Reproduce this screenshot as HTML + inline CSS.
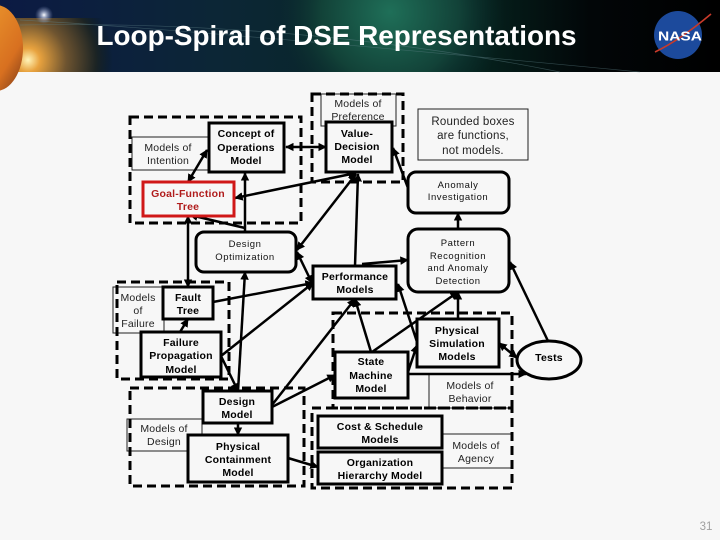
<!DOCTYPE html>
<html><head><meta charset="utf-8"><style>
html,body{margin:0;padding:0;background:#f7f7f7}
svg{display:block}
text{font-family:"Liberation Sans",sans-serif;text-anchor:middle}
.b text{font-weight:bold;font-size:10.5px;fill:#000;letter-spacing:.2px}
.r text{font-size:9.5px;fill:#111;letter-spacing:.55px}
.t text{font-size:10.5px;fill:#222;letter-spacing:.2px}
</style></head><body>
<svg width="720" height="540" viewBox="0 0 720 540" xmlns="http://www.w3.org/2000/svg">
<defs>
<radialGradient id="sun" cx="28" cy="60" r="85" gradientUnits="userSpaceOnUse"><stop offset="0" stop-color="#fff4b8"/><stop offset=".14" stop-color="#e8a23e"/><stop offset=".45" stop-color="#6e5430"/><stop offset=".8" stop-color="#1c2424"/><stop offset="1" stop-color="#0a1a1c" stop-opacity="0"/></radialGradient>
<radialGradient id="gr" cx="390" cy="12" r="115" gradientUnits="userSpaceOnUse"><stop offset="0" stop-color="#1f6f58"/><stop offset=".6" stop-color="#124238"/><stop offset="1" stop-color="#0a2a2c" stop-opacity="0"/></radialGradient>
<linearGradient id="hd" x1="0" x2="1" y1="0" y2="0"><stop offset="0" stop-color="#0c1a44"/><stop offset=".3" stop-color="#0c2636"/><stop offset=".65" stop-color="#06241f"/><stop offset=".82" stop-color="#020608"/><stop offset="1" stop-color="#000"/></linearGradient>
<linearGradient id="pl" x1="0" x2="1" y1="0" y2="1"><stop offset="0" stop-color="#f0a030"/><stop offset=".7" stop-color="#d87020"/><stop offset="1" stop-color="#7a3818"/></linearGradient>
<radialGradient id="st"><stop offset="0" stop-color="#fff"/><stop offset=".3" stop-color="#cfd8f0" stop-opacity=".7"/><stop offset="1" stop-color="#8090c0" stop-opacity="0"/></radialGradient>
<marker id="a" viewBox="0 0 10 10" refX="9" refY="5" markerWidth="3.400" markerHeight="3.400" orient="auto-start-reverse"><path d="M0 0L10 5L0 10Z" fill="#000"/></marker>
</defs>
<rect width="720" height="540" fill="#f7f7f7"/>
<!-- header -->
<rect width="720" height="72" fill="url(#hd)"/>
<rect width="720" height="72" fill="url(#gr)"/>
<rect x="0" y="18" width="125" height="54" fill="url(#sun)"/>
<path d="M20 20Q200 30 640 72M20 25Q300 20 560 72" stroke="#5d7f86" stroke-width=".7" fill="none" opacity=".5"/>
<ellipse cx="-4" cy="48" rx="27" ry="43" fill="url(#pl)"/>
<circle cx="44" cy="15" r="9" fill="url(#st)"/>
<text x="336.500" y="45" font-size="27.500" fill="#fff" textLength="480" lengthAdjust="spacingAndGlyphs" style="font-weight:bold">Loop-Spiral of DSE Representations</text>
<circle cx="678" cy="35" r="24" fill="#1c4a9c"/>
<path d="M655 52Q680 40 711 14" stroke="#c83a2a" stroke-width="1.600" fill="none"/>
<text x="680" y="40.500" font-size="13" fill="#fff" textLength="44" lengthAdjust="spacingAndGlyphs" style="font-weight:bold">NASA</text>

<!-- thin boxes -->
<g fill="#f7f7f7" stroke="#222" stroke-width="1">
<rect x="132" y="137" width="76" height="33"/>
<rect x="321" y="94" width="75" height="32"/>
<rect x="418" y="109" width="110" height="51"/>
<rect x="113" y="287" width="51" height="46"/>
<rect x="127" y="419" width="75" height="32"/>
<path d="M429 374V408H512M442 434H512M442 468H512" fill="none"/>
</g>
<!-- dashed groups -->
<g fill="none" stroke="#000" stroke-width="3" stroke-dasharray="9 5">
<rect x="130" y="117" width="171" height="106"/>
<rect x="312" y="94" width="91" height="88"/>
<rect x="117" y="282" width="112" height="97"/>
<rect x="130" y="388" width="174" height="98"/>
<rect x="333" y="313" width="179" height="95"/>
<rect x="312" y="408" width="200" height="80"/>
</g>
<!-- connectors -->
<g stroke="#000" stroke-width="2.500" fill="none" marker-end="url(#a)">
<path d="M286 147H326" marker-start="url(#a)"/>
<path d="M207 150L188 182" marker-start="url(#a)"/>
<path d="M356 173L235 198" marker-start="url(#a)"/>
<path d="M245 232V173"/>
<path d="M245 228L190 215"/>
<path d="M188 216V287" marker-start="url(#a)"/>
<path d="M356 174L297 250" marker-start="url(#a)"/>
<path d="M355 266L358 174"/>
<path d="M312 283L297 252" marker-start="url(#a)"/>
<path d="M362 264L408 260"/>
<path d="M213 302L313 283"/>
<path d="M221 356L313 283"/>
<path d="M238 391L245 272"/>
<path d="M221 356L238 391"/>
<path d="M272 405L355 299"/>
<path d="M272 407L335 375"/>
<path d="M180 332L188 319"/>
<path d="M238 423V435"/>
<path d="M288 458L318 467"/>
<path d="M371 352L355 299"/>
<path d="M372 352L458 292"/>
<path d="M458 319V292"/>
<path d="M417 342L398 284"/>
<path d="M408 372L417 345"/>
<path d="M408 374H526"/>
<path d="M517 358L499 343" marker-start="url(#a)"/>
<path d="M548 341L510 262"/>
<path d="M458 229V213"/>
<path d="M408 188L393 148"/>
</g>
<!-- model boxes -->
<g fill="#f7f7f7" stroke="#000" stroke-width="3">
<rect x="209" y="123" width="75" height="49"/>
<rect x="326" y="122" width="66" height="50"/>
<rect x="313" y="266" width="83" height="33"/>
<rect x="163" y="287" width="50" height="32"/>
<rect x="141" y="332" width="80" height="45"/>
<rect x="203" y="391" width="69" height="32"/>
<rect x="188" y="435" width="100" height="47"/>
<rect x="417" y="319" width="82" height="48"/>
<rect x="335" y="352" width="73" height="46"/>
<rect x="318" y="416" width="124" height="32"/>
<rect x="318" y="452" width="124" height="32"/>
<rect x="143" y="182" width="91" height="34" stroke="#d01818"/>
<rect x="196" y="232" width="100" height="40" rx="8"/>
<rect x="408" y="172" width="101" height="41" rx="8"/>
<rect x="408" y="229" width="101" height="63" rx="10"/>
<ellipse cx="549" cy="360" rx="32" ry="19"/>
</g>
<!-- bold labels -->
<g class="b">
<text x="246" y="137">Concept of</text><text x="246" y="151">Operations</text><text x="246" y="164">Model</text>
<text x="357" y="137">Value-</text><text x="357" y="150">Decision</text><text x="357" y="163">Model</text>
<text x="355" y="280">Performance</text><text x="355" y="293">Models</text>
<text x="188" y="301">Fault</text><text x="188" y="314">Tree</text>
<text x="181" y="346">Failure</text><text x="181" y="359">Propagation</text><text x="181" y="373">Model</text>
<text x="237" y="405">Design</text><text x="237" y="418">Model</text>
<text x="238" y="450">Physical</text><text x="238" y="463">Containment</text><text x="238" y="476">Model</text>
<text x="457" y="334">Physical</text><text x="457" y="347">Simulation</text><text x="457" y="360">Models</text>
<text x="371" y="365">State</text><text x="371" y="379">Machine</text><text x="371" y="392">Model</text>
<text x="380" y="430">Cost &amp; Schedule</text><text x="380" y="443">Models</text>
<text x="380" y="466">Organization</text><text x="380" y="479">Hierarchy Model</text>
<text x="549" y="361">Tests</text>
<text x="188" y="197" style="fill:#b01c1c">Goal-Function</text><text x="188" y="210" style="fill:#b01c1c">Tree</text>
</g>
<!-- regular labels -->
<g class="r">
<text x="245" y="247">Design</text><text x="245" y="260">Optimization</text>
<text x="458" y="188">Anomaly</text><text x="458" y="200">Investigation</text>
<text x="458" y="246">Pattern</text><text x="458" y="259">Recognition</text><text x="458" y="271">and Anomaly</text><text x="458" y="284">Detection</text>
</g>
<g class="t">
<text x="168" y="151">Models of</text><text x="168" y="164">Intention</text>
<text x="358" y="107">Models of</text><text x="358" y="120">Preference</text>
<text x="138" y="301">Models</text><text x="138" y="314">of</text><text x="138" y="327">Failure</text>
<text x="164" y="432">Models of</text><text x="164" y="445">Design</text>
<text x="470" y="389">Models of</text><text x="470" y="402">Behavior</text>
<text x="476" y="449">Models of</text><text x="476" y="462">Agency</text>
<text x="473" y="125" style="font-size:11.500px">Rounded boxes</text><text x="473" y="139" style="font-size:11.500px">are functions,</text><text x="473" y="154" style="font-size:11.500px">not models.</text>
</g>
<text x="706" y="530" font-size="11.500" fill="#a0a0a0">31</text>
</svg>
</body></html>
